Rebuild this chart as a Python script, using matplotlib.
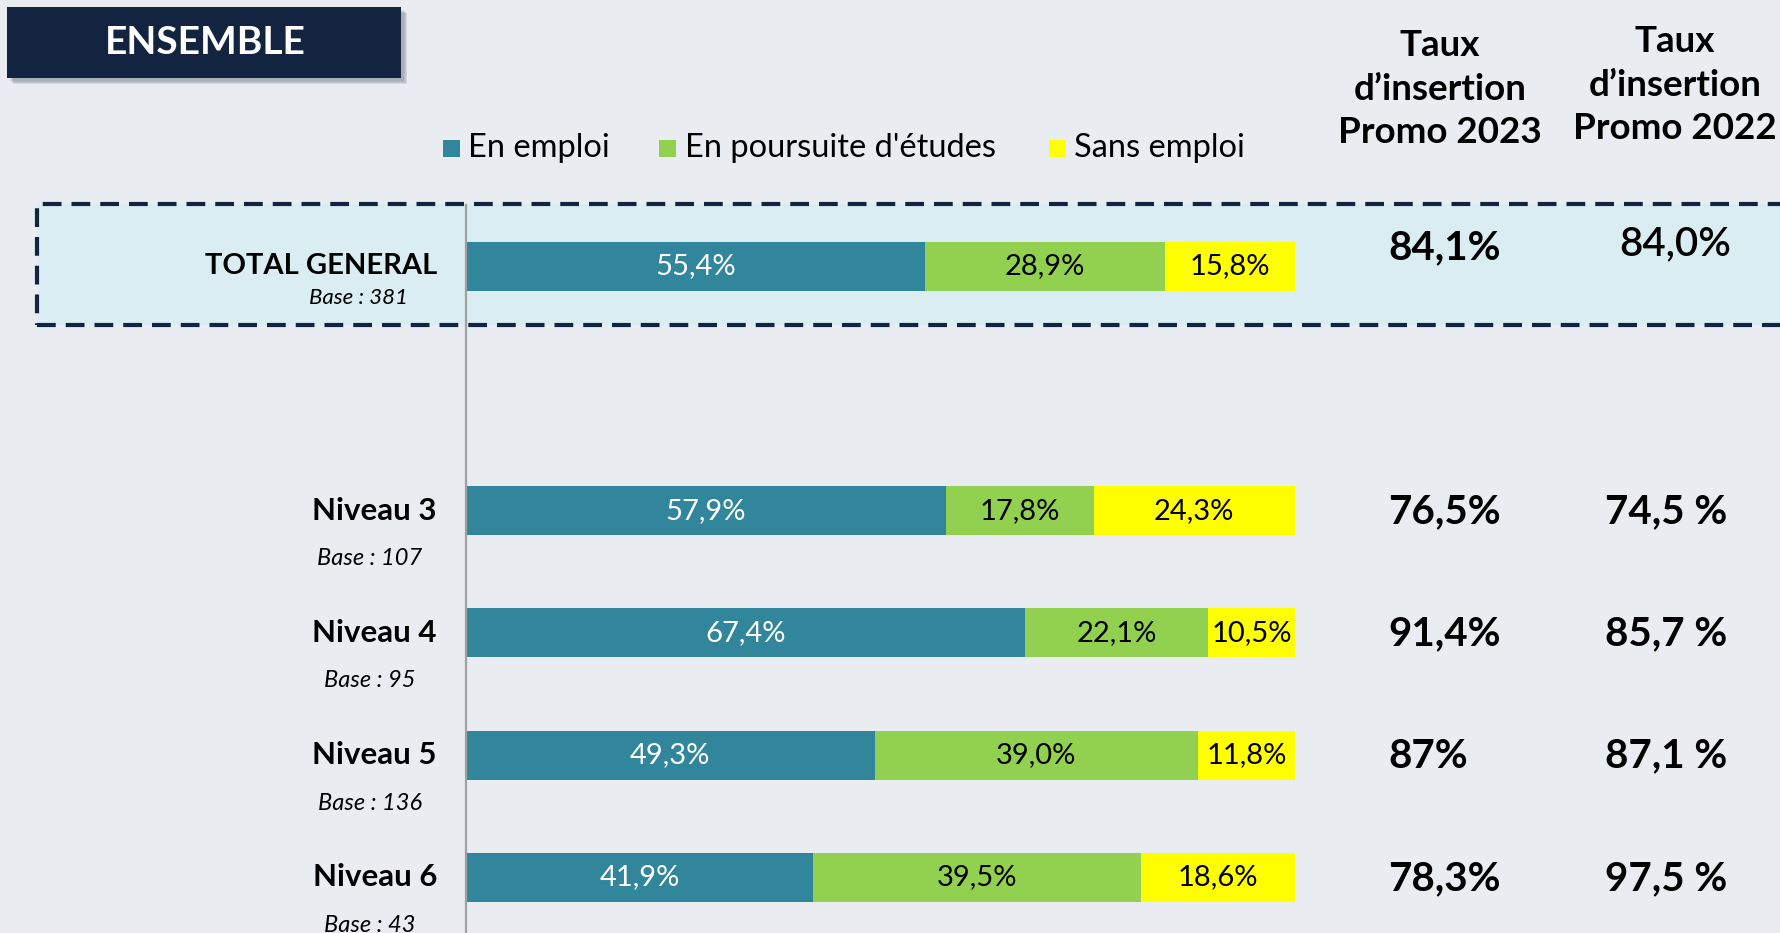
import matplotlib.pyplot as plt
import matplotlib.transforms as mtransforms
from matplotlib.patches import Rectangle

plt.rcParams["font.family"] = ["Lato", "DejaVu Sans"]

# data
categories = ["TOTAL GENERAL", "Niveau 3", "Niveau 4", "Niveau 5", "Niveau 6"]
bases = [381, 107, 95, 136, 43]
en_emploi = [55.4, 57.9, 67.4, 49.3, 41.9]
poursuite = [28.9, 17.8, 22.1, 39.0, 39.5]
sans_emploi = [15.8, 24.3, 10.5, 11.8, 18.6]
taux_2023 = ["84,1%", "76,5%", "91,4%", "87%", "78,3%"]
taux_2022 = ["84,0%", "74,5 %", "85,7 %", "87,1 %", "97,5 %"]
series_names = ["En emploi", "En poursuite d'études", "Sans emploi"]

# layout
rows = [0, 2, 3, 4, 5]
colors = ["#31869b", "#92d050", "#ffff00"]
text_colors = ["white", "black", "black"]
bg = "#e9edf1"
navy = "#12243f"

W, H = 1781, 933


def fx(px):
    return px / W


def fy(py):
    return 1 - py / H


def shift(dy_px):
    # vertical offset in pixels (positive = down)
    return mtransforms.ScaledTranslation(0, -dy_px / 100, fig.dpi_scale_trans)


fig = plt.figure(figsize=(W / 100, H / 100), dpi=100, facecolor=bg)

# highlighted total row box
box = Rectangle((fx(37), fy(325)), fx(1800) - fx(37), fy(204) - fy(325),
                transform=fig.transFigure, facecolor="#daedf3",
                edgecolor=navy, linewidth=3, linestyle=(0, (4.5, 2.4)), zorder=-1)
fig.patches.append(box)

ax = fig.add_axes([fx(466), 0, fx(1295) - fx(466), 1 - 205 / H])
ax.set_zorder(1)
ax.patch.set_visible(False)
ax.set_xlim(0, 100)
ax.set_ylim(5.454, -0.5)
for s in ["top", "right", "bottom"]:
    ax.spines[s].set_visible(False)
ax.spines["left"].set_color("#a0a0a0")
ax.spines["left"].set_linewidth(1.6)
ax.set_xticks([])
ax.set_yticks([])

left = [0] * len(rows)
for vals, col, tcol in zip([en_emploi, poursuite, sans_emploi], colors, text_colors):
    ax.barh(rows, vals, left=left, height=0.4, color=col, zorder=2)
    for y, l, v in zip(rows, left, vals):
        ax.text(l + v / 2, y, f"{v:.1f}".replace(".", ",") + "%", ha="center",
                va="center", color=tcol, fontsize=21, zorder=3)
    left = [l + v for l, v in zip(left, vals)]

fig_y = mtransforms.blended_transform_factory(fig.transFigure, ax.transData)

for y, name, base, t23, t22 in zip(rows, categories, bases, taux_2023, taux_2022):
    if y == 0:
        ax.text(fx(437), y, name, transform=fig_y, ha="right", va="center",
                fontsize=21, fontweight="bold")
        ax.text(fx(408), y, f"Base : {base}", transform=fig_y + shift(32),
                ha="right", va="center", fontsize=16, style="italic")
        ax.text(fx(1388), y, t23, transform=fig_y + shift(-18), ha="left", va="center",
                fontsize=29, fontweight="bold")
        ax.text(fx(1675), y, t22, transform=fig_y + shift(-22),
                ha="center", va="center", fontsize=29, fontweight="semibold")
    else:
        ax.text(fx(437), y, name, transform=fig_y, ha="right", va="center",
                fontsize=22.5, fontweight="bold")
        ax.text(fx(370), y, f"Base : {base}", transform=fig_y + shift(48),
                ha="center", va="center", fontsize=17, style="italic")
        ax.text(fx(1388), y, t23, transform=fig_y + shift(1), ha="left", va="center",
                fontsize=29, fontweight="bold")
        ax.text(fx(1666), y, t22, transform=fig_y + shift(1), ha="center", va="center",
                fontsize=29, fontweight="bold")

# column headers
for x, yy, lab in [(1440, 89, "Taux\nd’insertion\nPromo 2023"),
                   (1675, 85, "Taux\nd’insertion\nPromo 2022")]:
    fig.text(fx(x), fy(yy), lab, ha="center", va="center", fontsize=26.5,
             fontweight="bold", linespacing=1.38)

# legend
for sx, tx, name, col in zip([443, 659, 1049], [468, 685, 1074], series_names, colors):
    fig.patches.append(Rectangle((fx(sx), fy(157)), fx(17), 17 / H,
                                 transform=fig.transFigure, facecolor=col))
    fig.text(fx(tx), fy(148), name, ha="left", va="center", fontsize=23.5)

# title box with soft shadow
for k, a in enumerate([0.12, 0.12, 0.14, 0.16]):
    d = 3 + k
    fig.patches.append(Rectangle((fx(7 + d), fy(78 + d)), fx(394), 71 / H,
                                 transform=fig.transFigure, facecolor="#5a6470",
                                 alpha=a, linewidth=0, zorder=1))
fig.patches.append(Rectangle((fx(7), fy(78)), fx(394), 71 / H, transform=fig.transFigure,
                             facecolor=navy, linewidth=0, zorder=2))
fig.text(fx(205), fy(42), "ENSEMBLE", ha="center", va="center", color="white",
         fontsize=28, fontweight="bold", zorder=3)

fig.savefig("out.png", dpi=100, facecolor=bg)
